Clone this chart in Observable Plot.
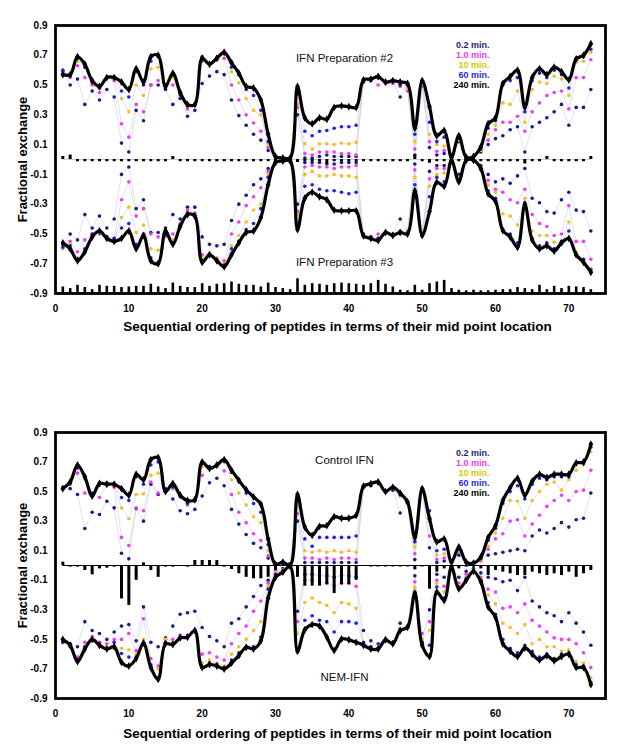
<!DOCTYPE html>
<html><head><meta charset="utf-8">
<script src="https://cdn.jsdelivr.net/npm/d3@7"></script>
<script src="https://cdn.jsdelivr.net/npm/@observablehq/plot@0.6"></script>
<style>
body{margin:0;background:#fff;width:625px;height:755px;overflow:hidden}
#chart svg{display:block}
</style></head><body><div id="chart"></div>
<script>
const peptides = [1,2,3,4,5,6,7,8,9,10,11,12,13,14,15,16,17,18,19,20,21,22,23,24,25,26,27,28,29,30,31,32,33,34,35,36,37,38,39,40,41,42,43,44,45,46,47,48,49,50,51,52,53,54,55,56,57,58,59,60,61,62,63,64,65,66,67,68,69,70,71,72,73];
const xTicks = [0,10,20,30,40,50,60,70];
const yTicks = [-0.9,-0.7,-0.5,-0.3,-0.1,0.1,0.3,0.5,0.7,0.9];
const seriesNames = ["0.2 min.","1.0 min.","10 min.","60 min.","240 min."];

// IFN Preparation #2 (upper half, top panel)
const p2_02 = [.59,.50,.54,.37,.46,.40,.47,.42,.11,.05, .33,.26,.50,.50,.47,.37,.41,.29,.33,.51, .56,.59,.57,.40,.295,.23,.17,.13,.06,.01, .01,.01,.30,.01,.01,.02,.03,.02,.02,.02, .02,.52,.53,.55,.52,.52,.42,.50,.03,.50, .08,.03,.04,.015,.12,.015,.02,.05,.10,.14, .16,.20,.22,.05,.22,.25,.28,.32,.37,.23, .35,.35,.47];
const p2_1 = [.58,.55,.63,.55,.50,.45,.55,.53,.24,.15, .37,.32,.50,.53,.50,.50,.43,.34,.37,.66, .64,.67,.68,.50,.40,.30,.245,.19,.08,.01, .01,.01,.35,.04,.03,.05,.05,.05,.04,.04, .03,.53,.54,.50,.51,.51,.49,.46,.07,.49, .12,.055,.06,.015,.13,.015,.02,.08,.13,.20, .25,.25,.29,.19,.32,.38,.43,.45,.46,.34, .55,.55,.67];
const p2_10 = [.58,.56,.66,.62,.52,.48,.55,.54,.41,.32, .50,.43,.61,.62,.49,.55,.44,.36,.37,.67, .64,.67,.71,.59,.515,.41,.33,.30,.10,.02, .01,.01,.37,.105,.07,.105,.105,.10,.11,.105, .115,.53,.54,.55,.52,.52,.51,.48,.12,.51, .17,.10,.09,.015,.13,.015,.02,.06,.17,.23, .38,.37,.46,.25,.47,.52,.51,.56,.54,.43, .65,.66,.72];
const p2_60 = [.60,.56,.68,.62,.52,.48,.55,.55,.46,.42, .59,.50,.66,.69,.48,.57,.44,.36,.37,.69, .64,.68,.72,.62,.57,.47,.43,.33,.12,.02, .01,.01,.44,.19,.16,.19,.195,.21,.22,.22, .23,.53,.54,.55,.52,.53,.50,.50,.17,.52, .25,.12,.15,.015,.15,.015,.02,.07,.21,.26, .50,.53,.55,.32,.53,.58,.55,.60,.57,.48, .67,.69,.74];
const p2_240 = [.57,.57,.69,.64,.53,.49,.55,.55,.52,.47, .61,.52,.69,.70,.49,.58,.45,.37,.37,.68, .64,.68,.72,.65,.58,.49,.48,.40,.17,.02, .01,.01,.49,.28,.24,.28,.27,.35,.36,.355, .35,.535,.54,.557,.52,.53,.52,.51,.21,.53, .355,.16,.195,.015,.16,.015,.02,.085,.24,.28, .51,.557,.60,.35,.55,.61,.57,.62,.59,.535, .676,.70,.777];

// IFN Preparation #3 (lower half, top panel)
const p3_02 = [-.57,-.50,-.54,-.37,-.46,-.38,-.46,-.40,-.10,-.05, -.33,-.27,-.49,-.49,-.46,-.37,-.40,-.32,-.32,-.52, -.57,-.58,-.57,-.41,-.30,-.24,-.17,-.13,-.06,-.01, -.01,-.01,-.30,-.02,-.02,-.02,-.03,-.03,-.02,-.02, -.02,-.50,-.52,-.53,-.49,-.50,-.40,-.49,-.03,-.50, -.08,-.04,-.04,-.005,-.10,-.005,-.005,-.04,-.10,-.15, -.13,-.16,-.11,-.06,-.26,-.29,-.35,-.36,-.27,-.22, -.34,-.35,-.48];
const p3_1 = [-.58,-.55,-.62,-.54,-.50,-.50,-.52,-.53,-.27,-.15, -.38,-.33,-.50,-.52,-.48,-.50,-.43,-.34,-.36,-.64, -.63,-.67,-.68,-.50,-.42,-.31,-.25,-.19,-.08,-.01, -.01,-.01,-.35,-.05,-.04,-.05,-.05,-.06,-.05,-.05, -.04,-.51,-.52,-.50,-.49,-.50,-.48,-.48,-.07,-.49, -.13,-.06,-.06,-.005,-.12,-.005,-.005,-.07,-.14,-.20, -.22,-.27,-.29,-.20,-.37,-.43,-.45,-.51,-.50,-.31, -.55,-.55,-.67];
const p3_10 = [-.60,-.57,-.66,-.62,-.51,-.49,-.53,-.54,-.39,-.32, -.49,-.44,-.60,-.61,-.52,-.54,-.44,-.36,-.38,-.66, -.63,-.66,-.70,-.58,-.51,-.42,-.34,-.30,-.10,-.02, -.01,-.01,-.37,-.10,-.08,-.11,-.11,-.10,-.11,-.11, -.12,-.51,-.53,-.54,-.49,-.51,-.49,-.49,-.12,-.50, -.18,-.10,-.09,-.005,-.12,-.005,-.005,-.05,-.17,-.22, -.365,-.38,-.44,-.26,-.48,-.51,-.51,-.555,-.555,-.42, -.62,-.67,-.73];
const p3_60 = [-.59,-.58,-.67,-.60,-.50,-.48,-.52,-.53,-.46,-.43, -.57,-.50,-.66,-.69,-.51,-.56,-.44,-.36,-.38,-.68, -.64,-.68,-.71,-.60,-.55,-.47,-.43,-.33,-.12,-.02, -.01,-.01,-.43,-.18,-.17,-.20,-.21,-.21,-.22,-.23, -.22,-.51,-.53,-.54,-.49,-.51,-.49,-.50,-.17,-.51, -.25,-.12,-.15,-.005,-.14,-.005,-.005,-.06,-.21,-.26, -.47,-.50,-.56,-.29,-.53,-.58,-.56,-.60,-.55,-.48, -.64,-.67,-.74];
const p3_240 = [-.56,-.60,-.68,-.62,-.52,-.48,-.53,-.55,-.53,-.48, -.60,-.51,-.68,-.70,-.48,-.57,-.45,-.37,-.38,-.69, -.64,-.68,-.72,-.64,-.56,-.49,-.48,-.39,-.17,-.02, -.01,-.01,-.47,-.26,-.22,-.25,-.27,-.34,-.345,-.345, -.345,-.513,-.53,-.544,-.49,-.51,-.49,-.50,-.21,-.51, -.35,-.152,-.18,-.005,-.15,-.005,-.005,-.06,-.23,-.28, -.477,-.52,-.59,-.30,-.54,-.60,-.58,-.615,-.56,-.53, -.64,-.69,-.757];

// small differences shown at zero (top panel) and bars above -0.9
const topZeroBars = [.02,.03,-.015,-.015,-.015,-.015,-.015,-.015,-.015,-.015, -.015,-.015,-.015,-.015,-.015,.02,-.015,-.015,-.015,-.015, -.015,-.015,-.015,-.015,-.015,-.015,-.015,-.015,-.015,-.015, -.015,-.015,-.02,-.015,-.015,-.015,-.03,-.015,-.015,-.015, -.015,-.015,-.015,-.015,-.015,-.015,-.015,-.015,.03,-.015, -.025,-.015,-.015,-.015,-.015,-.015,-.015,-.015,-.015,-.015, -.015,-.015,-.015,-.03,-.015,-.015,.02,-.015,-.015,-.015, -.015,-.015,.02];
const topBaseBars = [.044,.033,.055,.04,.026,.055,.048,.048,.04,.044, .048,.048,.062,.044,.033,.07,.048,.04,.04,.066, .048,.062,.066,.077,.062,.055,.055,.044,.07,.04, .033,.026,.099,.055,.066,.062,.055,.066,.07,.066, .062,.055,.066,.088,.062,.044,.022,.018,.055,.022, .066,.077,.088,.033,.022,.018,.022,.018,.018,.022, .026,.026,.04,.033,.026,.055,.026,.048,.033,.048, .044,.04,.026];

// Control IFN (upper half, bottom panel)
const c_02 = [.52,.52,.48,.25,.36,.345,.435,.39,.083,.045, .385,.30,.55,.48,.51,.45,.37,.35,.38,.47, .56,.59,.54,.38,.28,.21,.15,.12,.05,.01, .02,.01,.30,.02,.02,.02,.02,.02,.02,.02, .02,.53,.54,.56,.50,.51,.355,.42,.04,.52, .12,.02,.03,.02,.07,.02,.02,.04,.07,.08, .09,.10,.11,.10,.20,.24,.22,.25,.29,.26, .31,.32,.49];
const c_1 = [.52,.55,.625,.49,.48,.46,.55,.53,.19,.135, .39,.37,.565,.49,.51,.52,.47,.41,.44,.61, .66,.67,.64,.48,.36,.29,.215,.17,.066,.01, .02,.01,.35,.05,.05,.04,.05,.04,.05,.05, .04,.53,.55,.56,.50,.52,.47,.42,.08,.50, .20,.04,.05,.02,.09,.02,.02,.03,.11,.18, .215,.30,.31,.20,.28,.34,.40,.44,.475,.44, .50,.51,.645];
const c_10 = [.52,.56,.66,.58,.48,.55,.55,.54,.39,.316, .48,.485,.61,.625,.50,.52,.47,.42,.44,.67, .66,.67,.70,.58,.49,.41,.33,.29,.10,.01, .02,.01,.40,.10,.09,.10,.09,.10,.09,.10, .09,.53,.55,.56,.50,.52,.47,.42,.125,.51, .30,.07,.08,.02,.10,.02,.02,.04,.13,.22, .32,.44,.435,.32,.44,.50,.55,.565,.51,.58, .645,.68,.77];
const c_60 = [.53,.56,.66,.60,.49,.56,.56,.55,.46,.44, .60,.55,.68,.70,.52,.53,.47,.42,.44,.70, .67,.68,.71,.63,.57,.49,.42,.36,.14,.01, .02,.01,.44,.18,.13,.19,.19,.19,.19,.19, .20,.53,.55,.56,.50,.52,.48,.43,.16,.52, .37,.10,.11,.02,.11,.02,.02,.05,.17,.25, .42,.50,.54,.45,.55,.59,.58,.60,.60,.60, .69,.69,.80];
const c_240 = [.52,.565,.68,.60,.47,.555,.55,.55,.52,.475, .617,.58,.716,.73,.50,.555,.475,.44,.445,.70, .656,.68,.716,.645,.577,.513,.464,.414,.18,.007, .023,.0,.48,.26,.204,.265,.27,.33,.32,.32, .34,.536,.554,.565,.50,.53,.49,.43,.19,.52, .317,.16,.18,.023,.125,.023,.016,.057,.19,.27, .44,.527,.59,.475,.57,.617,.595,.617,.617,.617, .694,.70,.82];

// NEM-IFN (lower half, bottom panel)
const n_02 = [-.52,-.53,-.55,-.38,-.44,-.46,-.50,-.45,-.41,-.40, -.51,-.28,-.52,-.55,-.49,-.41,-.33,-.32,-.31,-.42, -.48,-.51,-.55,-.39,-.36,-.28,-.21,-.135,-.10,-.03, -.02,-.01,-.31,-.06,-.06,-.07,-.07,-.08,-.07,-.07, -.08,-.44,-.51,-.56,-.50,-.52,-.39,-.42,-.07,-.52, -.30,-.06,-.08,-.01,-.08,-.04,-.02,-.05,-.08,-.09, -.11,-.10,-.17,-.08,-.24,-.28,-.32,-.34,-.38,-.32, -.39,-.45,-.54];
const n_1 = [-.51,-.55,-.62,-.52,-.48,-.52,-.53,-.50,-.50,-.46, -.576,-.36,-.63,-.68,-.50,-.50,-.47,-.47,-.44,-.60, -.59,-.62,-.64,-.53,-.46,-.41,-.31,-.24,-.12,-.04, -.03,-.01,-.38,-.10,-.10,-.11,-.12,-.14,-.12,-.12, -.14,-.53,-.55,-.56,-.50,-.52,-.43,-.41,-.11,-.46, -.38,-.10,-.14,-.01,-.12,-.06,-.03,-.08,-.16,-.18, -.29,-.28,-.32,-.26,-.37,-.41,-.45,-.49,-.50,-.50, -.53,-.59,-.69];
const n_10 = [-.52,-.55,-.64,-.55,-.51,-.55,-.55,-.55,-.56,-.57, -.60,-.50,-.67,-.70,-.50,-.52,-.49,-.48,-.44,-.66, -.64,-.66,-.68,-.60,-.55,-.50,-.44,-.38,-.14,-.05, -.03,-.01,-.46,-.25,-.22,-.25,-.27,-.32,-.25,-.26, -.29,-.54,-.56,-.56,-.50,-.53,-.44,-.42,-.15,-.50, -.44,-.12,-.18,-.01,-.14,-.08,-.04,-.09,-.20,-.26, -.39,-.42,-.46,-.40,-.53,-.50,-.55,-.55,-.58,-.57, -.65,-.66,-.76];
const n_60 = [-.52,-.54,-.64,-.55,-.50,-.54,-.56,-.52,-.595,-.62, -.62,-.53,-.67,-.76,-.52,-.53,-.48,-.48,-.44,-.69, -.66,-.67,-.69,-.64,-.59,-.56,-.55,-.485,-.16,-.06, -.04,-.01,-.56,-.37,-.34,-.37,-.38,-.45,-.38,-.38, -.39,-.52,-.55,-.53,-.50,-.52,-.44,-.42,-.18,-.52, -.54,-.145,-.22,-.01,-.15,-.09,-.04,-.10,-.25,-.33, -.50,-.56,-.59,-.54,-.58,-.62,-.60,-.63,-.60,-.59, -.67,-.68,-.79];
const n_240 = [-.50,-.54,-.65,-.565,-.50,-.54,-.565,-.55,-.655,-.68, -.63,-.525,-.69,-.77,-.53,-.535,-.49,-.485,-.44,-.69, -.67,-.68,-.70,-.66,-.61,-.553,-.565,-.51,-.22,-.08, -.045,-.006,-.58,-.435,-.40,-.41,-.485,-.575,-.497,-.503, -.52,-.54,-.565,-.565,-.503,-.53,-.44,-.418,-.187,-.54, -.616,-.18,-.237,-.01,-.158,-.10,-.04,-.11,-.28,-.35, -.53,-.58,-.616,-.558,-.60,-.64,-.61,-.645,-.616,-.60, -.69,-.69,-.806];

// Control minus NEM bars at zero (bottom panel)
const bottomZeroBars = [.023,-.011,-.011,-.034,-.063,-.023,-.018,-.011,-.226,-.27, -.10,.018,-.034,-.08,-.011,-.011,-.007,-.011,.034,.034, .034,.034,-.011,-.027,-.056,-.08,-.09,-.09,-.08,-.034, .011,.02,-.08,-.14,-.14,-.14,-.13,-.19,-.13,-.13, -.10,-.007,-.01,-.01,-.01,-.01,-.01,-.01,-.03,-.01, -.16,-.045,-.023,-.011,-.023,-.011,-.011,-.023,-.068,-.034, -.045,-.056,-.068,-.068,-.045,-.056,-.068,-.056,-.068,-.045, -.08,-.056,-.034];

const dotColors = ["#1c1c7c","#f03cee","#f5bf1c","#2222dc","#000000"];
const legendColors = ["#1c1c7c","#f03cee","#d4cc00","#2a2ad8","#000000"];
const xLabel = "Sequential ordering of peptides in terms of their mid point location";
const yLabel = "Fractional exchange";
const FONT = "Arial, 'Liberation Sans', Helvetica, sans-serif";

function panel(cfg) {
  const halves = [cfg.upper, cfg.lower];
  const marks = [];
  marks.push(Plot.ruleY([0], {x1: peptides[0], x2: peptides[peptides.length - 1], stroke: cfg.zeroStroke, strokeWidth: cfg.zeroWidth}));
  halves.forEach(h => {
    for (let s = 0; s < 4; s++) {
      marks.push(Plot.line(peptides, {x: d => d, y: (d, i) => h[s][i], stroke: "#cdcde6", strokeWidth: 0.6}));
    }
  });
  halves.forEach(h => {
    for (let s = 0; s < 4; s++) {
      marks.push(Plot.dot(peptides, {x: d => d, y: (d, i) => h[s][i], r: 1.8, fill: dotColors[s]}));
    }
  });
  halves.forEach(h => {
    marks.push(Plot.line(peptides, {x: d => d, y: (d, i) => h[4][i], stroke: "#000", strokeWidth: 3.2, curve: "catmull-rom"}));
    marks.push(Plot.dot(peptides, {x: d => d, y: (d, i) => h[4][i], symbol: "diamond", r: 2.4, fill: "#000"}));
  });
  marks.push(Plot.ruleX(peptides, {x: d => d, y1: 0, y2: (d, i) => cfg.zeroBars[i], stroke: "#000", strokeWidth: 3}));
  if (cfg.baseBars) {
    const base = yTicks[0];
    marks.push(Plot.ruleX(peptides, {x: d => d, y1: base, y2: (d, i) => base + cfg.baseBars[i], stroke: "#000", strokeWidth: 2.6}));
  }
  marks.push(Plot.frame({stroke: "#000", strokeWidth: 2.8}));
  marks.push(Plot.axisX({ticks: xTicks, tickSize: 0, tickPadding: 11, tickFormat: d => String(d), fontSize: 10, fontWeight: "bold", label: null}));
  marks.push(Plot.axisY({ticks: yTicks, tickSize: 0, tickPadding: 8, tickFormat: d => d.toFixed(1), fontSize: 10, fontWeight: "bold", label: null}));
  marks.push(Plot.text([xLabel], {frameAnchor: "bottom", dx: 7, dy: cfg.xLabelDy, textAnchor: "middle", fontSize: 13.5, fontWeight: "bold", fill: "#000"}));
  marks.push(Plot.text([yLabel], {frameAnchor: "left", dx: -33, rotate: -90, textAnchor: "middle", lineAnchor: "middle", fontSize: 13, fontWeight: "bold", fill: "#000"}));
  marks.push(Plot.text([cfg.labelTop], {frameAnchor: "top-left", dx: 289, dy: cfg.labelTopDy, textAnchor: "middle", fontSize: 11.5, fill: "#111"}));
  marks.push(Plot.text([cfg.labelBottom], {frameAnchor: "top-left", dx: 289, dy: cfg.labelBottomDy, textAnchor: "middle", fontSize: 11.5, fill: "#111"}));
  seriesNames.forEach((name, i) => {
    marks.push(Plot.text([name], {frameAnchor: "top-left", dx: 434, dy: cfg.legendDy + i * 10, textAnchor: "end", fontSize: 9, fontWeight: "bold", fill: legendColors[i]}));
  });
  return Plot.plot({
    width: 625, height: cfg.height,
    marginLeft: 55, marginRight: 20, marginTop: cfg.marginTop, marginBottom: cfg.marginBottom,
    style: {fontFamily: FONT, background: "#fff", overflow: "visible"},
    x: {domain: [0, 75]},
    y: {domain: [yTicks[0], yTicks[yTicks.length - 1]]},
    marks
  });
}

const chart = document.getElementById("chart");
chart.appendChild(panel({
  upper: [p2_02, p2_1, p2_10, p2_60, p2_240],
  lower: [p3_02, p3_1, p3_10, p3_60, p3_240],
  zeroBars: topZeroBars, baseBars: topBaseBars,
  zeroStroke: "#cccccc", zeroWidth: 1,
  labelTop: "IFN Preparation #2", labelTopDy: 28,
  labelBottom: "IFN Preparation #3", labelBottomDy: 232,
  legendDy: 16.5,
  height: 340, marginTop: 25, marginBottom: 47, xLabelDy: 37
}));
chart.appendChild(panel({
  upper: [c_02, c_1, c_10, c_60, c_240],
  lower: [n_02, n_1, n_10, n_60, n_240],
  zeroBars: bottomZeroBars, baseBars: null,
  zeroStroke: "#000", zeroWidth: 1.2,
  labelTop: "Control IFN", labelTopDy: 23,
  labelBottom: "NEM-IFN", labelBottomDy: 240,
  legendDy: 17,
  height: 415, marginTop: 92, marginBottom: 57, xLabelDy: 39
}));
</script></body></html>
